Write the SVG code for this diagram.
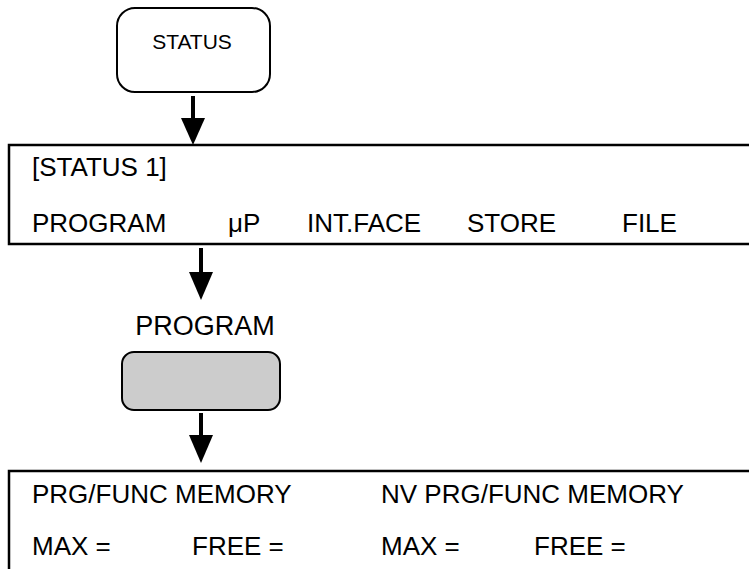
<svg xmlns="http://www.w3.org/2000/svg" width="749" height="569" viewBox="0 0 749 569">
<defs>
<style>
.box{fill:#fff;stroke:#000;stroke-width:2}
.disp{fill:#fff;stroke:#000;stroke-width:2.5}
.key{fill:#cccccc;stroke:#000;stroke-width:2}
.t{font-family:"Liberation Sans",Arial,sans-serif;fill:#000}
.n{font-family:"Liberation Sans",Arial,sans-serif;font-size:26px;fill:#000}
.shaft{stroke:#000;stroke-width:4;fill:none}
.head{fill:#000}
</style>
</defs>
<g id="status-key">
<rect class="box" x="117" y="8" width="153" height="84" rx="18"/>
<text class="t" x="192" y="49" font-size="21" text-anchor="middle">STATUS</text>
</g>
<g id="status-display">
<rect class="disp" x="9" y="145" width="760" height="99"/>
<text class="n" x="32" y="176">[STATUS 1]</text>
<text class="n" x="32" y="232">PROGRAM</text>
<text class="n" x="228" y="232">μP</text>
<text class="n" x="307" y="232">INT.FACE</text>
<text class="n" x="467" y="232">STORE</text>
<text class="n" x="622" y="232">FILE</text>
</g>
<g id="program-key">
<text class="t" x="205" y="335" font-size="27" text-anchor="middle">PROGRAM</text>
<rect class="key" x="122" y="352" width="158" height="58" rx="12"/>
</g>
<g id="program-display">
<rect class="disp" x="9" y="471" width="760" height="120"/>
<text class="n" x="32" y="503">PRG/FUNC MEMORY</text>
<text class="n" x="381" y="503">NV PRG/FUNC MEMORY</text>
<text class="n" x="32" y="555">MAX =</text>
<text class="n" x="192" y="555">FREE =</text>
<text class="n" x="381" y="555">MAX =</text>
<text class="n" x="534" y="555">FREE =</text>
</g>
<g id="connectors">
<line class="shaft" x1="193" y1="96" x2="193" y2="121"/>
<polygon class="head" points="181,118 205,118 193,145"/>
<line class="shaft" x1="201" y1="248" x2="201" y2="275"/>
<polygon class="head" points="189,272 213,272 201,300"/>
<line class="shaft" x1="201" y1="413" x2="201" y2="438"/>
<polygon class="head" points="189,435 213,435 201,463"/>
</g>
</svg>
